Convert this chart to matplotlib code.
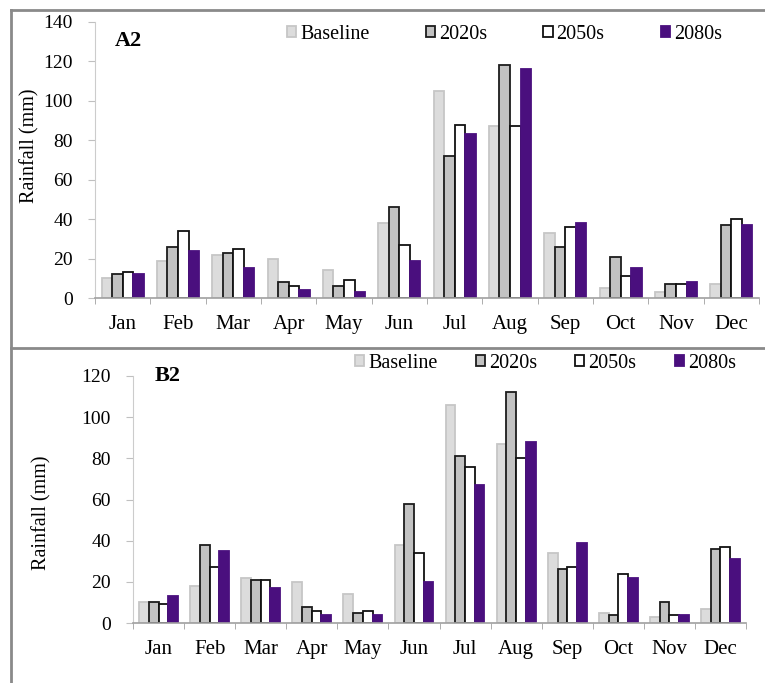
import matplotlib
matplotlib.use("Agg")
import matplotlib.pyplot as plt
from matplotlib.lines import Line2D
import numpy as np

plt.rcParams["font.family"] = ["Liberation Serif", "DejaVu Serif"]

months = ["Jan", "Feb", "Mar", "Apr", "May", "Jun", "Jul", "Aug", "Sep", "Oct", "Nov", "Dec"]
periods = ["Baseline", "2020s", "2050s", "2080s"]

# A2 scenario, monthly rainfall (mm)
a2_baseline = [10, 19, 22, 20, 14, 38, 105, 87, 33, 5, 3, 7]
a2_2020s = [12, 26, 23, 8, 6, 46, 72, 118, 26, 21, 7, 37]
a2_2050s = [13, 34, 25, 6, 9, 27, 88, 87, 36, 11, 7, 40]
a2_2080s = [12, 24, 15, 4, 3, 19, 83, 116, 38, 15, 8, 37]

# B2 scenario, monthly rainfall (mm)
b2_baseline = [10, 18, 22, 20, 14, 38, 106, 87, 34, 5, 3, 7]
b2_2020s = [10, 38, 21, 8, 5, 58, 81, 112, 26, 4, 10, 36]
b2_2050s = [9, 27, 21, 6, 6, 34, 76, 80, 27, 24, 4, 37]
b2_2080s = [13, 35, 17, 4, 4, 20, 67, 88, 39, 22, 4, 31]

fills = ["#dcdcdc", "#c2c2c2", "#ffffff", "#4a0f7e"]
edges = ["#c6c6c6", "#1c1c1c", "#111111", "#4a0f7e"]

W, H = 765, 683
fig = plt.figure(figsize=(W / 100, H / 100), dpi=100)


def px_box(left, top, right, bottom):
    # pixel box -> figure fraction rect
    return [left / W, 1 - bottom / H, (right - left) / W, (bottom - top) / H]


def draw_panel(ax, series, ymax, label, label_xy, leg_anchor, colspace):
    x = np.arange(len(months))
    w = 0.19
    for i, vals in enumerate(series):
        ax.bar(x + (i - 1.5) * w, vals, w, color=fills[i], edgecolor=edges[i],
               linewidth=1.3, label=periods[i], zorder=2)
    ax.set_xlim(-0.5, len(months) - 0.5)
    ax.set_ylim(0, ymax)
    ax.set_yticks(np.arange(0, ymax + 1, 20))
    ax.set_xticks(x)
    ax.set_xticklabels(months, fontsize=15)
    ax.set_xticks(np.arange(len(months) + 1) - 0.5, minor=True)
    ax.tick_params(axis="x", which="major", length=0, pad=12)
    ax.tick_params(axis="x", which="minor", length=4, color="#a0a0a0")
    ax.tick_params(axis="y", length=5, color="#c0c0c0", pad=11, labelsize=14)
    for s in ("top", "right"):
        ax.spines[s].set_visible(False)
    ax.spines["left"].set_color("#cccccc")
    ax.spines["bottom"].set_color("#a0a0a0")
    ax.spines["bottom"].set_linewidth(1.2)
    ax.text(label_xy[0] / W, 1 - label_xy[1] / H, label, transform=fig.transFigure,
            fontsize=16, fontweight="bold", va="center")
    ax.legend(loc="upper left", bbox_to_anchor=(leg_anchor[0] / W, 1 - leg_anchor[1] / H),
              bbox_transform=fig.transFigure, ncol=4, frameon=False, fontsize=14.5,
              handlelength=0.45, handleheight=0.45, handletextpad=0.2,
              columnspacing=colspace, borderpad=0, borderaxespad=0)


ax_a = fig.add_axes(px_box(95, 22, 759, 298))
draw_panel(ax_a, [a2_baseline, a2_2020s, a2_2050s, a2_2080s], 140, "A2",
           (115, 41), (287, 25), 2.8)
fig.text(30 / W, 1 - 146 / H, "Rainfall (mm)", rotation=90, fontsize=14.5,
         ha="center", va="center")

ax_b = fig.add_axes(px_box(133, 376, 746, 623))
draw_panel(ax_b, [b2_baseline, b2_2020s, b2_2050s, b2_2080s], 120, "B2",
           (155, 376), (355, 354), 1.9)
fig.text(42 / W, 1 - 513 / H, "Rainfall (mm)", rotation=90, fontsize=14.5,
         ha="center", va="center")

# frame lines round the two panels
frame = "#8a8a8a"
for (x0, y0), (x1, y1) in [((11, 10), (765, 10)), ((11, 10), (11, 683)),
                           ((11, 348), (765, 348))]:
    fig.add_artist(Line2D([x0 / W, x1 / W], [1 - y0 / H, 1 - y1 / H],
                          transform=fig.transFigure, color=frame, linewidth=2))

fig.savefig("out.png", dpi=100)
